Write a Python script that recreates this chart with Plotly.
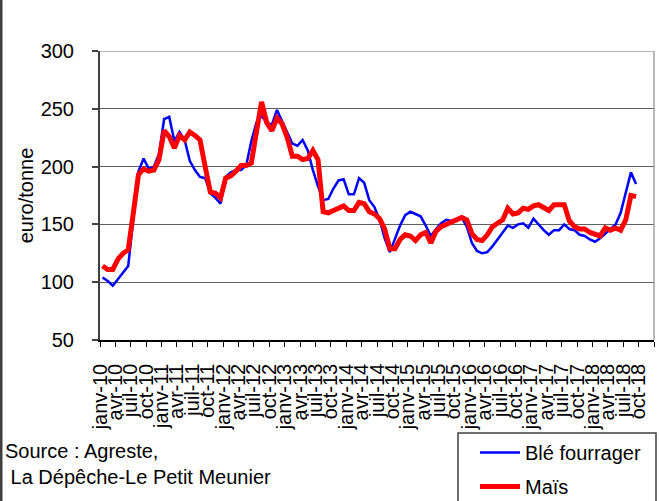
import plotly.graph_objects as go

# Monthly prices (euro/tonne), janv-2010 ... sept-2018
ble_fourrager = [104, 101, 97, 103, 108, 114, 155, 196, 207, 198, 200, 211,
                 241, 243, 222, 230, 223, 205, 197, 191, 190, 177, 173, 168,
                 191, 195, 197, 197, 201, 222, 238, 244, 238, 236, 249, 239,
                 229, 220, 218, 223, 214, 197, 183, 171, 172, 181, 188, 189,
                 176, 176, 190, 186, 171, 165, 154, 138, 126, 137, 149, 158,
                 161, 159, 157, 149, 140, 146, 151, 154, 153, 154, 156, 148,
                 134, 127, 125, 126, 131, 137, 143, 149, 147, 150, 151, 147,
                 155, 150, 145, 141, 145, 145, 150, 146, 145, 141, 140, 137,
                 135, 138, 142, 146, 150, 160, 178, 195, 185]
mais = [114, 111, 111, 120, 125, 128, 160, 193, 198, 196, 197, 206,
        231, 226, 216, 227, 223, 230, 227, 223, 200, 178, 177, 173,
        190, 192, 196, 201, 201, 203, 230, 256, 238, 231, 242, 237,
        225, 209, 209, 206, 207, 214, 206, 161, 160, 162, 164, 166,
        162, 162, 169, 168, 161, 159, 155, 146, 129, 129, 137, 141,
        140, 136, 141, 143, 134, 144, 148, 150, 152, 155, 156, 154,
        142, 137, 136, 141, 148, 151, 154, 164, 159, 160, 164, 163,
        166, 167, 164, 162, 167, 167, 167, 153, 148, 146, 146, 143,
        141, 140, 147, 145, 147, 145, 154, 175, 174]

tick_labels = ["janv-10", "avr-10", "juil-10", "oct-10",
               "janv-11", "avr-11", "juil-11", "oct-11",
               "janv-12", "avr-12", "juil-12", "oct-12",
               "janv-13", "avr-13", "juil-13", "oct-13",
               "janv-14", "avr-14", "juil-14", "oct-14",
               "janv-15", "avr-15", "juil-15", "oct-15",
               "janv-16", "avr-16", "juil-16", "oct-16",
               "janv-17", "avr-17", "juil-17", "oct-17",
               "janv-18", "avr-18", "juil-18", "oct-18"]

n_categories = 108  # janv-10 ... dec-18 on the category axis
months = list(range(len(ble_fourrager)))
n_ticks = n_categories // 3 + 1
tick_pos = [-0.5 + 3 * k for k in range(n_ticks)]
tick_text = tick_labels + [""] * (n_ticks - len(tick_labels))

W, H = 660, 501
L, R, T, B = 100, 6, 51, 161
pw, ph = W - L - R, H - T - B


def px(xp):
    return (xp - L) / pw


def py(yp):
    return (H - B - yp) / ph


fig = go.Figure()
fig.add_trace(go.Scatter(x=months, y=ble_fourrager, mode="lines", name="Blé fourrager",
                         legendgroup="a",
                         line=dict(color="#0000FF", width=2.5)))
fig.add_trace(go.Scatter(x=months, y=mais, mode="lines", name="Maïs",
                         legendgroup="b",
                         line=dict(color="#FF0000", width=5)))

fig.update_layout(
    width=W, height=H,
    margin=dict(l=L, r=R, t=T, b=B, pad=0, autoexpand=False),
    paper_bgcolor="white", plot_bgcolor="white",
    font=dict(family="Liberation Sans, Arial, sans-serif", size=20, color="black"),
    showlegend=True,
    legend=dict(x=px(475), y=py(433), xanchor="left", yanchor="top",
                bgcolor="rgba(0,0,0,0)", borderwidth=0,
                font=dict(size=20), itemwidth=40, tracegroupgap=5),
    xaxis=dict(range=[-0.5, n_categories - 0.5], tickmode="array",
               tickvals=tick_pos, ticktext=tick_text, tickangle=-90,
               ticks="outside", ticklen=5, tickwidth=1, tickcolor="black",
               showgrid=False, zeroline=False,
               showline=True, linecolor="black", linewidth=1.5,
               ticklabelstandoff=9),
    yaxis=dict(range=[50, 300], tickmode="array",
               tickvals=[50, 100, 150, 200, 250, 300],
               ticks="outside", ticklen=6, tickwidth=1.5, tickcolor="#404040",
               showline=True, linecolor="#404040", linewidth=2,
               showgrid=True, gridcolor="#606060", gridwidth=1.2,
               zeroline=False, ticklabelstandoff=14,
               title=dict(text="euro/tonne", standoff=2,
                          font=dict(size=20))),
    shapes=[
        dict(type="line", xref="paper", yref="y", x0=0, x1=1, y0=300, y1=300,
             line=dict(color="#a0a0a0", width=1.5)),
        dict(type="line", xref="paper", yref="y", x0=1, x1=1, y0=50, y1=300,
             line=dict(color="#a0a0a0", width=1.5)),
        dict(type="line", xref="paper", yref="paper", x0=px(1), x1=px(1),
             y0=py(H + 5), y1=py(-5), line=dict(color="#404040", width=3)),
        dict(type="rect", xref="paper", yref="paper", x0=px(458), x1=px(656),
             y0=py(H + 10), y1=py(433), line=dict(color="#404040", width=1.5),
             fillcolor="rgba(0,0,0,0)"),
    ],
    annotations=[
        dict(text="Source : Agreste,<br>\u00a0La Dépêche-Le Petit Meunier",
             xref="paper", yref="paper", x=px(3), y=py(438),
             xanchor="left", yanchor="top", align="left", showarrow=False,
             font=dict(size=20)),
    ],
)

fig.write_html("out.html",
               config={"displayModeBar": False},
               post_script="document.body.style.margin='0';document.body.style.overflow='hidden';")
